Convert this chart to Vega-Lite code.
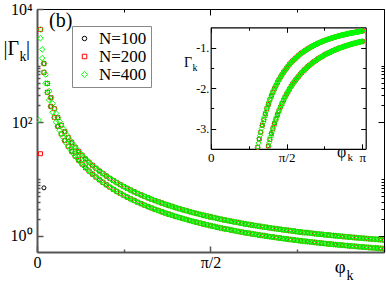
{
"$schema":"https://vega.github.io/schema/vega-lite/v6.json",
"width":347,"height":243,"autosize":"none",
"padding":{"left":37,"top":9,"right":2,"bottom":31},
"background":"white",
"config":{"view":{"stroke":null},"axis":{"grid":false,"labelFont":"Liberation Serif","labelColor":"black","labelFlush":false,"labelOverlap":false,"labelBound":false},"text":{"font":"Liberation Serif","color":"black"}},
"datasets":{"d":[
{"N":"N=100","phi":0.0628,"a":1090,"b":7},
{"N":"N=100","phi":0.1257,"a":272.7,"b":190.9},
{"N":"N=100","phi":0.1885,"a":121.4,"b":85.0},
{"N":"N=100","phi":0.2513,"a":68.48,"b":47.9},
{"N":"N=100","phi":0.3142,"a":43.98,"b":30.8},
{"N":"N=100","phi":0.3770,"a":30.66,"b":21.46},
{"N":"N=100","phi":0.4398,"a":22.64,"b":15.85},
{"N":"N=100","phi":0.5027,"a":17.43,"b":12.2},
{"N":"N=100","phi":0.5655,"a":13.86,"b":9.70},
{"N":"N=100","phi":0.6283,"a":11.30,"b":7.91},
{"N":"N=100","phi":0.6912,"a":9.41,"b":6.59},
{"N":"N=100","phi":0.7540,"a":7.97,"b":5.58},
{"N":"N=100","phi":0.8168,"a":6.855,"b":4.80},
{"N":"N=100","phi":0.8796,"a":5.97,"b":4.18},
{"N":"N=100","phi":0.9425,"a":5.25,"b":3.68},
{"N":"N=100","phi":1.0053,"a":4.66,"b":3.26,"gb":-3.26},
{"N":"N=100","phi":1.0681,"a":4.18,"b":2.92,"gb":-2.92},
{"N":"N=100","phi":1.1310,"a":3.77,"b":2.64,"gb":-2.64},
{"N":"N=100","phi":1.1938,"a":3.43,"b":2.40,"ga":-3.43,"gb":-2.40},
{"N":"N=100","phi":1.2566,"a":3.13,"b":2.19,"ga":-3.13,"gb":-2.19},
{"N":"N=100","phi":1.3195,"a":2.88,"b":2.02,"ga":-2.88,"gb":-2.02},
{"N":"N=100","phi":1.3823,"a":2.66,"b":1.86,"ga":-2.66,"gb":-1.86},
{"N":"N=100","phi":1.4451,"a":2.47,"b":1.73,"ga":-2.47,"gb":-1.73},
{"N":"N=100","phi":1.5080,"a":2.30,"b":1.61,"ga":-2.30,"gb":-1.61},
{"N":"N=100","phi":1.5708,"a":2.15,"b":1.51,"ga":-2.15,"gb":-1.51},
{"N":"N=100","phi":1.6336,"a":2.02,"b":1.41,"ga":-2.02,"gb":-1.41},
{"N":"N=100","phi":1.6965,"a":1.90,"b":1.33,"ga":-1.90,"gb":-1.33},
{"N":"N=100","phi":1.7593,"a":1.80,"b":1.26,"ga":-1.80,"gb":-1.26},
{"N":"N=100","phi":1.8221,"a":1.71,"b":1.19,"ga":-1.71,"gb":-1.19},
{"N":"N=100","phi":1.8850,"a":1.62,"b":1.13,"ga":-1.62,"gb":-1.13},
{"N":"N=100","phi":1.9478,"a":1.54,"b":1.08,"ga":-1.54,"gb":-1.08},
{"N":"N=100","phi":2.0106,"a":1.47,"b":1.03,"ga":-1.47,"gb":-1.03},
{"N":"N=100","phi":2.0735,"a":1.41,"b":0.987,"ga":-1.41,"gb":-0.987},
{"N":"N=100","phi":2.1363,"a":1.35,"b":0.947,"ga":-1.35,"gb":-0.947},
{"N":"N=100","phi":2.1991,"a":1.30,"b":0.909,"ga":-1.30,"gb":-0.909},
{"N":"N=100","phi":2.2619,"a":1.25,"b":0.875,"ga":-1.25,"gb":-0.875},
{"N":"N=100","phi":2.3248,"a":1.21,"b":0.844,"ga":-1.21,"gb":-0.844},
{"N":"N=100","phi":2.3876,"a":1.16,"b":0.815,"ga":-1.16,"gb":-0.815},
{"N":"N=100","phi":2.4504,"a":1.13,"b":0.788,"ga":-1.13,"gb":-0.788},
{"N":"N=100","phi":2.5133,"a":1.09,"b":0.764,"ga":-1.09,"gb":-0.764},
{"N":"N=100","phi":2.5761,"a":1.06,"b":0.741,"ga":-1.06,"gb":-0.741},
{"N":"N=100","phi":2.6389,"a":1.03,"b":0.719,"ga":-1.03,"gb":-0.719},
{"N":"N=100","phi":2.7018,"a":1.00,"b":0.699,"ga":-1.00,"gb":-0.699},
{"N":"N=100","phi":2.7646,"a":0.973,"b":0.681,"ga":-0.973,"gb":-0.681},
{"N":"N=100","phi":2.8274,"a":0.948,"b":0.663,"ga":-0.948,"gb":-0.663},
{"N":"N=100","phi":2.8903,"a":0.925,"b":0.647,"ga":-0.925,"gb":-0.647},
{"N":"N=100","phi":2.9531,"a":0.903,"b":0.632,"ga":-0.903,"gb":-0.632},
{"N":"N=100","phi":3.0159,"a":0.883,"b":0.618,"ga":-0.883,"gb":-0.618},
{"N":"N=100","phi":3.0788,"a":0.864,"b":0.605,"ga":-0.864,"gb":-0.605},
{"N":"N=100","phi":3.1416,"a":0.846,"b":0.592,"ga":-0.846,"gb":-0.592},
{"N":"N=200","phi":0.0314,"a":4357,"b":28},
{"N":"N=200","phi":0.0628,"a":1090,"b":763},
{"N":"N=200","phi":0.0942,"a":484.5,"b":339.2},
{"N":"N=200","phi":0.1257,"a":272.7,"b":190.9},
{"N":"N=200","phi":0.1571,"a":174.7,"b":122.3},
{"N":"N=200","phi":0.1885,"a":121.4,"b":85.0},
{"N":"N=200","phi":0.2199,"a":89.3,"b":62.5},
{"N":"N=200","phi":0.2513,"a":68.48,"b":47.9},
{"N":"N=200","phi":0.2827,"a":54.2,"b":37.9},
{"N":"N=200","phi":0.3142,"a":43.98,"b":30.8},
{"N":"N=200","phi":0.3456,"a":36.42,"b":25.5},
{"N":"N=200","phi":0.3770,"a":30.66,"b":21.46},
{"N":"N=200","phi":0.4084,"a":26.19,"b":18.33},
{"N":"N=200","phi":0.4398,"a":22.64,"b":15.85},
{"N":"N=200","phi":0.4712,"a":19.77,"b":13.84},
{"N":"N=200","phi":0.5027,"a":17.43,"b":12.2},
{"N":"N=200","phi":0.5341,"a":15.49,"b":10.84},
{"N":"N=200","phi":0.5655,"a":13.86,"b":9.70},
{"N":"N=200","phi":0.5969,"a":12.48,"b":8.74},
{"N":"N=200","phi":0.6283,"a":11.30,"b":7.91},
{"N":"N=200","phi":0.6597,"a":10.29,"b":7.20},
{"N":"N=200","phi":0.6912,"a":9.41,"b":6.59},
{"N":"N=200","phi":0.7226,"a":8.65,"b":6.05},
{"N":"N=200","phi":0.7540,"a":7.97,"b":5.58},
{"N":"N=200","phi":0.7854,"a":7.38,"b":5.17},
{"N":"N=200","phi":0.8168,"a":6.855,"b":4.80},
{"N":"N=200","phi":0.8482,"a":6.39,"b":4.47},
{"N":"N=200","phi":0.8796,"a":5.97,"b":4.18},
{"N":"N=200","phi":0.9111,"a":5.59,"b":3.91},
{"N":"N=200","phi":0.9425,"a":5.25,"b":3.68},
{"N":"N=200","phi":0.9739,"a":4.94,"b":3.46,"gb":-3.46},
{"N":"N=200","phi":1.0053,"a":4.66,"b":3.26,"gb":-3.26},
{"N":"N=200","phi":1.0367,"a":4.41,"b":3.09,"gb":-3.09},
{"N":"N=200","phi":1.0681,"a":4.18,"b":2.92,"gb":-2.92},
{"N":"N=200","phi":1.0996,"a":3.97,"b":2.78,"gb":-2.78},
{"N":"N=200","phi":1.1310,"a":3.77,"b":2.64,"gb":-2.64},
{"N":"N=200","phi":1.1624,"a":3.59,"b":2.51,"gb":-2.51},
{"N":"N=200","phi":1.1938,"a":3.43,"b":2.40,"ga":-3.43,"gb":-2.40},
{"N":"N=200","phi":1.2252,"a":3.27,"b":2.29,"ga":-3.27,"gb":-2.29},
{"N":"N=200","phi":1.2566,"a":3.13,"b":2.19,"ga":-3.13,"gb":-2.19},
{"N":"N=200","phi":1.2881,"a":3.00,"b":2.10,"ga":-3.00,"gb":-2.10},
{"N":"N=200","phi":1.3195,"a":2.88,"b":2.02,"ga":-2.88,"gb":-2.02},
{"N":"N=200","phi":1.3509,"a":2.77,"b":1.94,"ga":-2.77,"gb":-1.94},
{"N":"N=200","phi":1.3823,"a":2.66,"b":1.86,"ga":-2.66,"gb":-1.86},
{"N":"N=200","phi":1.4137,"a":2.56,"b":1.79,"ga":-2.56,"gb":-1.79},
{"N":"N=200","phi":1.4451,"a":2.47,"b":1.73,"ga":-2.47,"gb":-1.73},
{"N":"N=200","phi":1.4765,"a":2.38,"b":1.67,"ga":-2.38,"gb":-1.67},
{"N":"N=200","phi":1.5080,"a":2.30,"b":1.61,"ga":-2.30,"gb":-1.61},
{"N":"N=200","phi":1.5394,"a":2.22,"b":1.56,"ga":-2.22,"gb":-1.56},
{"N":"N=200","phi":1.5708,"a":2.15,"b":1.51,"ga":-2.15,"gb":-1.51},
{"N":"N=200","phi":1.6022,"a":2.09,"b":1.46,"ga":-2.09,"gb":-1.46},
{"N":"N=200","phi":1.6336,"a":2.02,"b":1.41,"ga":-2.02,"gb":-1.41},
{"N":"N=200","phi":1.6650,"a":1.96,"b":1.37,"ga":-1.96,"gb":-1.37},
{"N":"N=200","phi":1.6965,"a":1.90,"b":1.33,"ga":-1.90,"gb":-1.33},
{"N":"N=200","phi":1.7279,"a":1.85,"b":1.30,"ga":-1.85,"gb":-1.30},
{"N":"N=200","phi":1.7593,"a":1.80,"b":1.26,"ga":-1.80,"gb":-1.26},
{"N":"N=200","phi":1.7907,"a":1.75,"b":1.23,"ga":-1.75,"gb":-1.23},
{"N":"N=200","phi":1.8221,"a":1.71,"b":1.19,"ga":-1.71,"gb":-1.19},
{"N":"N=200","phi":1.8535,"a":1.66,"b":1.16,"ga":-1.66,"gb":-1.16},
{"N":"N=200","phi":1.8850,"a":1.62,"b":1.13,"ga":-1.62,"gb":-1.13},
{"N":"N=200","phi":1.9164,"a":1.58,"b":1.11,"ga":-1.58,"gb":-1.11},
{"N":"N=200","phi":1.9478,"a":1.54,"b":1.08,"ga":-1.54,"gb":-1.08},
{"N":"N=200","phi":1.9792,"a":1.51,"b":1.06,"ga":-1.51,"gb":-1.06},
{"N":"N=200","phi":2.0106,"a":1.47,"b":1.03,"ga":-1.47,"gb":-1.03},
{"N":"N=200","phi":2.0420,"a":1.44,"b":1.01,"ga":-1.44,"gb":-1.01},
{"N":"N=200","phi":2.0735,"a":1.41,"b":0.987,"ga":-1.41,"gb":-0.987},
{"N":"N=200","phi":2.1049,"a":1.38,"b":0.966,"ga":-1.38,"gb":-0.966},
{"N":"N=200","phi":2.1363,"a":1.35,"b":0.947,"ga":-1.35,"gb":-0.947},
{"N":"N=200","phi":2.1677,"a":1.33,"b":0.928,"ga":-1.33,"gb":-0.928},
{"N":"N=200","phi":2.1991,"a":1.30,"b":0.909,"ga":-1.30,"gb":-0.909},
{"N":"N=200","phi":2.2305,"a":1.27,"b":0.892,"ga":-1.27,"gb":-0.892},
{"N":"N=200","phi":2.2619,"a":1.25,"b":0.875,"ga":-1.25,"gb":-0.875},
{"N":"N=200","phi":2.2934,"a":1.23,"b":0.859,"ga":-1.23,"gb":-0.859},
{"N":"N=200","phi":2.3248,"a":1.21,"b":0.844,"ga":-1.21,"gb":-0.844},
{"N":"N=200","phi":2.3562,"a":1.18,"b":0.829,"ga":-1.18,"gb":-0.829},
{"N":"N=200","phi":2.3876,"a":1.16,"b":0.815,"ga":-1.16,"gb":-0.815},
{"N":"N=200","phi":2.4190,"a":1.14,"b":0.801,"ga":-1.14,"gb":-0.801},
{"N":"N=200","phi":2.4504,"a":1.13,"b":0.788,"ga":-1.13,"gb":-0.788},
{"N":"N=200","phi":2.4819,"a":1.11,"b":0.776,"ga":-1.11,"gb":-0.776},
{"N":"N=200","phi":2.5133,"a":1.09,"b":0.764,"ga":-1.09,"gb":-0.764},
{"N":"N=200","phi":2.5447,"a":1.07,"b":0.752,"ga":-1.07,"gb":-0.752},
{"N":"N=200","phi":2.5761,"a":1.06,"b":0.741,"ga":-1.06,"gb":-0.741},
{"N":"N=200","phi":2.6075,"a":1.04,"b":0.730,"ga":-1.04,"gb":-0.730},
{"N":"N=200","phi":2.6389,"a":1.03,"b":0.719,"ga":-1.03,"gb":-0.719},
{"N":"N=200","phi":2.6704,"a":1.01,"b":0.709,"ga":-1.01,"gb":-0.709},
{"N":"N=200","phi":2.7018,"a":1.00,"b":0.699,"ga":-1.00,"gb":-0.699},
{"N":"N=200","phi":2.7332,"a":0.986,"b":0.690,"ga":-0.986,"gb":-0.690},
{"N":"N=200","phi":2.7646,"a":0.973,"b":0.681,"ga":-0.973,"gb":-0.681},
{"N":"N=200","phi":2.7960,"a":0.960,"b":0.672,"ga":-0.960,"gb":-0.672},
{"N":"N=200","phi":2.8274,"a":0.948,"b":0.663,"ga":-0.948,"gb":-0.663},
{"N":"N=200","phi":2.8588,"a":0.936,"b":0.655,"ga":-0.936,"gb":-0.655},
{"N":"N=200","phi":2.8903,"a":0.925,"b":0.647,"ga":-0.925,"gb":-0.647},
{"N":"N=200","phi":2.9217,"a":0.914,"b":0.640,"ga":-0.914,"gb":-0.640},
{"N":"N=200","phi":2.9531,"a":0.903,"b":0.632,"ga":-0.903,"gb":-0.632},
{"N":"N=200","phi":2.9845,"a":0.893,"b":0.625,"ga":-0.893,"gb":-0.625},
{"N":"N=200","phi":3.0159,"a":0.883,"b":0.618,"ga":-0.883,"gb":-0.618},
{"N":"N=200","phi":3.0473,"a":0.873,"b":0.611,"ga":-0.873,"gb":-0.611},
{"N":"N=200","phi":3.0788,"a":0.864,"b":0.605,"ga":-0.864,"gb":-0.605},
{"N":"N=200","phi":3.1102,"a":0.855,"b":0.598,"ga":-0.855,"gb":-0.598},
{"N":"N=200","phi":3.1416,"a":0.846,"b":0.592,"ga":-0.846,"gb":-0.592},
{"N":"N=400","phi":0.0157,"b":110},
{"N":"N=400","phi":0.0314,"a":4357,"b":3050},
{"N":"N=400","phi":0.0471,"a":1937,"b":1356},
{"N":"N=400","phi":0.0628,"a":1090,"b":763},
{"N":"N=400","phi":0.0785,"a":697.5,"b":488.2},
{"N":"N=400","phi":0.0942,"a":484.5,"b":339.2},
{"N":"N=400","phi":0.1100,"a":356.1,"b":249.2},
{"N":"N=400","phi":0.1257,"a":272.7,"b":190.9},
{"N":"N=400","phi":0.1414,"a":215.6,"b":150.9},
{"N":"N=400","phi":0.1571,"a":174.7,"b":122.3},
{"N":"N=400","phi":0.1728,"a":144.4,"b":101.1},
{"N":"N=400","phi":0.1885,"a":121.4,"b":85.0},
{"N":"N=400","phi":0.2042,"a":103.5,"b":72.5},
{"N":"N=400","phi":0.2199,"a":89.3,"b":62.5},
{"N":"N=400","phi":0.2356,"a":77.86,"b":54.5},
{"N":"N=400","phi":0.2513,"a":68.48,"b":47.9},
{"N":"N=400","phi":0.2670,"a":60.71,"b":42.5},
{"N":"N=400","phi":0.2827,"a":54.2,"b":37.9},
{"N":"N=400","phi":0.2985,"a":48.68,"b":34.1},
{"N":"N=400","phi":0.3142,"a":43.98,"b":30.8},
{"N":"N=400","phi":0.3299,"a":39.93,"b":27.95},
{"N":"N=400","phi":0.3456,"a":36.42,"b":25.5},
{"N":"N=400","phi":0.3613,"a":33.35,"b":23.35},
{"N":"N=400","phi":0.3770,"a":30.66,"b":21.46},
{"N":"N=400","phi":0.3927,"a":28.29,"b":19.8},
{"N":"N=400","phi":0.4084,"a":26.19,"b":18.33},
{"N":"N=400","phi":0.4241,"a":24.32,"b":17.02},
{"N":"N=400","phi":0.4398,"a":22.64,"b":15.85},
{"N":"N=400","phi":0.4555,"a":21.13,"b":14.79},
{"N":"N=400","phi":0.4712,"a":19.77,"b":13.84},
{"N":"N=400","phi":0.4869,"a":18.54,"b":12.98},
{"N":"N=400","phi":0.5027,"a":17.43,"b":12.2},
{"N":"N=400","phi":0.5184,"a":16.41,"b":11.49},
{"N":"N=400","phi":0.5341,"a":15.49,"b":10.84},
{"N":"N=400","phi":0.5498,"a":14.64,"b":10.25},
{"N":"N=400","phi":0.5655,"a":13.86,"b":9.70},
{"N":"N=400","phi":0.5812,"a":13.14,"b":9.20},
{"N":"N=400","phi":0.5969,"a":12.48,"b":8.74},
{"N":"N=400","phi":0.6126,"a":11.87,"b":8.31},
{"N":"N=400","phi":0.6283,"a":11.30,"b":7.91},
{"N":"N=400","phi":0.6440,"a":10.78,"b":7.54},
{"N":"N=400","phi":0.6597,"a":10.29,"b":7.20},
{"N":"N=400","phi":0.6754,"a":9.835,"b":6.88},
{"N":"N=400","phi":0.6912,"a":9.41,"b":6.59},
{"N":"N=400","phi":0.7069,"a":9.02,"b":6.31},
{"N":"N=400","phi":0.7226,"a":8.65,"b":6.05},
{"N":"N=400","phi":0.7383,"a":8.30,"b":5.81},
{"N":"N=400","phi":0.7540,"a":7.97,"b":5.58},
{"N":"N=400","phi":0.7697,"a":7.67,"b":5.37},
{"N":"N=400","phi":0.7854,"a":7.38,"b":5.17},
{"N":"N=400","phi":0.8011,"a":7.11,"b":4.98},
{"N":"N=400","phi":0.8168,"a":6.855,"b":4.80},
{"N":"N=400","phi":0.8325,"a":6.61,"b":4.63},
{"N":"N=400","phi":0.8482,"a":6.39,"b":4.47},
{"N":"N=400","phi":0.8639,"a":6.17,"b":4.32},
{"N":"N=400","phi":0.8796,"a":5.97,"b":4.18},
{"N":"N=400","phi":0.8954,"a":5.77,"b":4.04},
{"N":"N=400","phi":0.9111,"a":5.59,"b":3.91},
{"N":"N=400","phi":0.9268,"a":5.42,"b":3.79},
{"N":"N=400","phi":0.9425,"a":5.25,"b":3.68},
{"N":"N=400","phi":0.9582,"a":5.09,"b":3.57},
{"N":"N=400","phi":0.9739,"a":4.94,"b":3.46,"gb":-3.46},
{"N":"N=400","phi":0.9896,"a":4.80,"b":3.36,"gb":-3.36},
{"N":"N=400","phi":1.0053,"a":4.66,"b":3.26,"gb":-3.26},
{"N":"N=400","phi":1.0210,"a":4.53,"b":3.17,"gb":-3.17},
{"N":"N=400","phi":1.0367,"a":4.41,"b":3.09,"gb":-3.09},
{"N":"N=400","phi":1.0524,"a":4.29,"b":3.00,"gb":-3.00},
{"N":"N=400","phi":1.0681,"a":4.18,"b":2.92,"gb":-2.92},
{"N":"N=400","phi":1.0838,"a":4.07,"b":2.85,"gb":-2.85},
{"N":"N=400","phi":1.0996,"a":3.97,"b":2.78,"gb":-2.78},
{"N":"N=400","phi":1.1153,"a":3.87,"b":2.71,"gb":-2.71},
{"N":"N=400","phi":1.1310,"a":3.77,"b":2.64,"gb":-2.64},
{"N":"N=400","phi":1.1467,"a":3.68,"b":2.58,"gb":-2.58},
{"N":"N=400","phi":1.1624,"a":3.59,"b":2.51,"gb":-2.51},
{"N":"N=400","phi":1.1781,"a":3.51,"b":2.46,"gb":-2.46},
{"N":"N=400","phi":1.1938,"a":3.43,"b":2.40,"ga":-3.43,"gb":-2.40},
{"N":"N=400","phi":1.2095,"a":3.35,"b":2.34,"ga":-3.35,"gb":-2.34},
{"N":"N=400","phi":1.2252,"a":3.27,"b":2.29,"ga":-3.27,"gb":-2.29},
{"N":"N=400","phi":1.2409,"a":3.20,"b":2.24,"ga":-3.20,"gb":-2.24},
{"N":"N=400","phi":1.2566,"a":3.13,"b":2.19,"ga":-3.13,"gb":-2.19},
{"N":"N=400","phi":1.2723,"a":3.07,"b":2.15,"ga":-3.07,"gb":-2.15},
{"N":"N=400","phi":1.2881,"a":3.00,"b":2.10,"ga":-3.00,"gb":-2.10},
{"N":"N=400","phi":1.3038,"a":2.94,"b":2.06,"ga":-2.94,"gb":-2.06},
{"N":"N=400","phi":1.3195,"a":2.88,"b":2.02,"ga":-2.88,"gb":-2.02},
{"N":"N=400","phi":1.3352,"a":2.82,"b":1.97,"ga":-2.82,"gb":-1.97},
{"N":"N=400","phi":1.3509,"a":2.77,"b":1.94,"ga":-2.77,"gb":-1.94},
{"N":"N=400","phi":1.3666,"a":2.71,"b":1.90,"ga":-2.71,"gb":-1.90},
{"N":"N=400","phi":1.3823,"a":2.66,"b":1.86,"ga":-2.66,"gb":-1.86},
{"N":"N=400","phi":1.3980,"a":2.61,"b":1.83,"ga":-2.61,"gb":-1.83},
{"N":"N=400","phi":1.4137,"a":2.56,"b":1.79,"ga":-2.56,"gb":-1.79},
{"N":"N=400","phi":1.4294,"a":2.51,"b":1.76,"ga":-2.51,"gb":-1.76},
{"N":"N=400","phi":1.4451,"a":2.47,"b":1.73,"ga":-2.47,"gb":-1.73},
{"N":"N=400","phi":1.4608,"a":2.43,"b":1.70,"ga":-2.43,"gb":-1.70},
{"N":"N=400","phi":1.4765,"a":2.38,"b":1.67,"ga":-2.38,"gb":-1.67},
{"N":"N=400","phi":1.4923,"a":2.34,"b":1.64,"ga":-2.34,"gb":-1.64},
{"N":"N=400","phi":1.5080,"a":2.30,"b":1.61,"ga":-2.30,"gb":-1.61},
{"N":"N=400","phi":1.5237,"a":2.26,"b":1.58,"ga":-2.26,"gb":-1.58},
{"N":"N=400","phi":1.5394,"a":2.22,"b":1.56,"ga":-2.22,"gb":-1.56},
{"N":"N=400","phi":1.5551,"a":2.19,"b":1.53,"ga":-2.19,"gb":-1.53},
{"N":"N=400","phi":1.5708,"a":2.15,"b":1.51,"ga":-2.15,"gb":-1.51},
{"N":"N=400","phi":1.5865,"a":2.12,"b":1.48,"ga":-2.12,"gb":-1.48},
{"N":"N=400","phi":1.6022,"a":2.09,"b":1.46,"ga":-2.09,"gb":-1.46},
{"N":"N=400","phi":1.6179,"a":2.05,"b":1.44,"ga":-2.05,"gb":-1.44},
{"N":"N=400","phi":1.6336,"a":2.02,"b":1.41,"ga":-2.02,"gb":-1.41},
{"N":"N=400","phi":1.6493,"a":1.99,"b":1.39,"ga":-1.99,"gb":-1.39},
{"N":"N=400","phi":1.6650,"a":1.96,"b":1.37,"ga":-1.96,"gb":-1.37},
{"N":"N=400","phi":1.6808,"a":1.93,"b":1.35,"ga":-1.93,"gb":-1.35},
{"N":"N=400","phi":1.6965,"a":1.90,"b":1.33,"ga":-1.90,"gb":-1.33},
{"N":"N=400","phi":1.7122,"a":1.88,"b":1.31,"ga":-1.88,"gb":-1.31},
{"N":"N=400","phi":1.7279,"a":1.85,"b":1.30,"ga":-1.85,"gb":-1.30},
{"N":"N=400","phi":1.7436,"a":1.82,"b":1.28,"ga":-1.82,"gb":-1.28},
{"N":"N=400","phi":1.7593,"a":1.80,"b":1.26,"ga":-1.80,"gb":-1.26},
{"N":"N=400","phi":1.7750,"a":1.77,"b":1.24,"ga":-1.77,"gb":-1.24},
{"N":"N=400","phi":1.7907,"a":1.75,"b":1.23,"ga":-1.75,"gb":-1.23},
{"N":"N=400","phi":1.8064,"a":1.73,"b":1.21,"ga":-1.73,"gb":-1.21},
{"N":"N=400","phi":1.8221,"a":1.71,"b":1.19,"ga":-1.71,"gb":-1.19},
{"N":"N=400","phi":1.8378,"a":1.68,"b":1.18,"ga":-1.68,"gb":-1.18},
{"N":"N=400","phi":1.8535,"a":1.66,"b":1.16,"ga":-1.66,"gb":-1.16},
{"N":"N=400","phi":1.8692,"a":1.64,"b":1.15,"ga":-1.64,"gb":-1.15},
{"N":"N=400","phi":1.8850,"a":1.62,"b":1.13,"ga":-1.62,"gb":-1.13},
{"N":"N=400","phi":1.9007,"a":1.60,"b":1.12,"ga":-1.60,"gb":-1.12},
{"N":"N=400","phi":1.9164,"a":1.58,"b":1.11,"ga":-1.58,"gb":-1.11},
{"N":"N=400","phi":1.9321,"a":1.56,"b":1.09,"ga":-1.56,"gb":-1.09},
{"N":"N=400","phi":1.9478,"a":1.54,"b":1.08,"ga":-1.54,"gb":-1.08},
{"N":"N=400","phi":1.9635,"a":1.53,"b":1.07,"ga":-1.53,"gb":-1.07},
{"N":"N=400","phi":1.9792,"a":1.51,"b":1.06,"ga":-1.51,"gb":-1.06},
{"N":"N=400","phi":1.9949,"a":1.49,"b":1.04,"ga":-1.49,"gb":-1.04},
{"N":"N=400","phi":2.0106,"a":1.47,"b":1.03,"ga":-1.47,"gb":-1.03},
{"N":"N=400","phi":2.0263,"a":1.46,"b":1.02,"ga":-1.46,"gb":-1.02},
{"N":"N=400","phi":2.0420,"a":1.44,"b":1.01,"ga":-1.44,"gb":-1.01},
{"N":"N=400","phi":2.0577,"a":1.43,"b":1.00,"ga":-1.43,"gb":-1.00},
{"N":"N=400","phi":2.0735,"a":1.41,"b":0.987,"ga":-1.41,"gb":-0.987},
{"N":"N=400","phi":2.0892,"a":1.40,"b":0.977,"ga":-1.40,"gb":-0.977},
{"N":"N=400","phi":2.1049,"a":1.38,"b":0.966,"ga":-1.38,"gb":-0.966},
{"N":"N=400","phi":2.1206,"a":1.37,"b":0.956,"ga":-1.37,"gb":-0.956},
{"N":"N=400","phi":2.1363,"a":1.35,"b":0.947,"ga":-1.35,"gb":-0.947},
{"N":"N=400","phi":2.1520,"a":1.34,"b":0.937,"ga":-1.34,"gb":-0.937},
{"N":"N=400","phi":2.1677,"a":1.33,"b":0.928,"ga":-1.33,"gb":-0.928},
{"N":"N=400","phi":2.1834,"a":1.31,"b":0.918,"ga":-1.31,"gb":-0.918},
{"N":"N=400","phi":2.1991,"a":1.30,"b":0.909,"ga":-1.30,"gb":-0.909},
{"N":"N=400","phi":2.2148,"a":1.29,"b":0.901,"ga":-1.29,"gb":-0.901},
{"N":"N=400","phi":2.2305,"a":1.27,"b":0.892,"ga":-1.27,"gb":-0.892},
{"N":"N=400","phi":2.2462,"a":1.26,"b":0.884,"ga":-1.26,"gb":-0.884},
{"N":"N=400","phi":2.2619,"a":1.25,"b":0.875,"ga":-1.25,"gb":-0.875},
{"N":"N=400","phi":2.2777,"a":1.24,"b":0.867,"ga":-1.24,"gb":-0.867},
{"N":"N=400","phi":2.2934,"a":1.23,"b":0.859,"ga":-1.23,"gb":-0.859},
{"N":"N=400","phi":2.3091,"a":1.22,"b":0.852,"ga":-1.22,"gb":-0.852},
{"N":"N=400","phi":2.3248,"a":1.21,"b":0.844,"ga":-1.21,"gb":-0.844},
{"N":"N=400","phi":2.3405,"a":1.20,"b":0.837,"ga":-1.20,"gb":-0.837},
{"N":"N=400","phi":2.3562,"a":1.18,"b":0.829,"ga":-1.18,"gb":-0.829},
{"N":"N=400","phi":2.3719,"a":1.17,"b":0.822,"ga":-1.17,"gb":-0.822},
{"N":"N=400","phi":2.3876,"a":1.16,"b":0.815,"ga":-1.16,"gb":-0.815},
{"N":"N=400","phi":2.4033,"a":1.15,"b":0.808,"ga":-1.15,"gb":-0.808},
{"N":"N=400","phi":2.4190,"a":1.14,"b":0.801,"ga":-1.14,"gb":-0.801},
{"N":"N=400","phi":2.4347,"a":1.14,"b":0.795,"ga":-1.14,"gb":-0.795},
{"N":"N=400","phi":2.4504,"a":1.13,"b":0.788,"ga":-1.13,"gb":-0.788},
{"N":"N=400","phi":2.4662,"a":1.12,"b":0.782,"ga":-1.12,"gb":-0.782},
{"N":"N=400","phi":2.4819,"a":1.11,"b":0.776,"ga":-1.11,"gb":-0.776},
{"N":"N=400","phi":2.4976,"a":1.10,"b":0.770,"ga":-1.10,"gb":-0.770},
{"N":"N=400","phi":2.5133,"a":1.09,"b":0.764,"ga":-1.09,"gb":-0.764},
{"N":"N=400","phi":2.5290,"a":1.08,"b":0.758,"ga":-1.08,"gb":-0.758},
{"N":"N=400","phi":2.5447,"a":1.07,"b":0.752,"ga":-1.07,"gb":-0.752},
{"N":"N=400","phi":2.5604,"a":1.07,"b":0.746,"ga":-1.07,"gb":-0.746},
{"N":"N=400","phi":2.5761,"a":1.06,"b":0.741,"ga":-1.06,"gb":-0.741},
{"N":"N=400","phi":2.5918,"a":1.05,"b":0.735,"ga":-1.05,"gb":-0.735},
{"N":"N=400","phi":2.6075,"a":1.04,"b":0.730,"ga":-1.04,"gb":-0.730},
{"N":"N=400","phi":2.6232,"a":1.03,"b":0.724,"ga":-1.03,"gb":-0.724},
{"N":"N=400","phi":2.6389,"a":1.03,"b":0.719,"ga":-1.03,"gb":-0.719},
{"N":"N=400","phi":2.6546,"a":1.02,"b":0.714,"ga":-1.02,"gb":-0.714},
{"N":"N=400","phi":2.6704,"a":1.01,"b":0.709,"ga":-1.01,"gb":-0.709},
{"N":"N=400","phi":2.6861,"a":1.01,"b":0.704,"ga":-1.01,"gb":-0.704},
{"N":"N=400","phi":2.7018,"a":1.00,"b":0.699,"ga":-1.00,"gb":-0.699},
{"N":"N=400","phi":2.7175,"a":0.992,"b":0.695,"ga":-0.992,"gb":-0.695},
{"N":"N=400","phi":2.7332,"a":0.986,"b":0.690,"ga":-0.986,"gb":-0.690},
{"N":"N=400","phi":2.7489,"a":0.979,"b":0.685,"ga":-0.979,"gb":-0.685},
{"N":"N=400","phi":2.7646,"a":0.973,"b":0.681,"ga":-0.973,"gb":-0.681},
{"N":"N=400","phi":2.7803,"a":0.966,"b":0.676,"ga":-0.966,"gb":-0.676},
{"N":"N=400","phi":2.7960,"a":0.960,"b":0.672,"ga":-0.960,"gb":-0.672},
{"N":"N=400","phi":2.8117,"a":0.954,"b":0.668,"ga":-0.954,"gb":-0.668},
{"N":"N=400","phi":2.8274,"a":0.948,"b":0.663,"ga":-0.948,"gb":-0.663},
{"N":"N=400","phi":2.8431,"a":0.942,"b":0.659,"ga":-0.942,"gb":-0.659},
{"N":"N=400","phi":2.8588,"a":0.936,"b":0.655,"ga":-0.936,"gb":-0.655},
{"N":"N=400","phi":2.8746,"a":0.930,"b":0.651,"ga":-0.930,"gb":-0.651},
{"N":"N=400","phi":2.8903,"a":0.925,"b":0.647,"ga":-0.925,"gb":-0.647},
{"N":"N=400","phi":2.9060,"a":0.919,"b":0.643,"ga":-0.919,"gb":-0.643},
{"N":"N=400","phi":2.9217,"a":0.914,"b":0.640,"ga":-0.914,"gb":-0.640},
{"N":"N=400","phi":2.9374,"a":0.908,"b":0.636,"ga":-0.908,"gb":-0.636},
{"N":"N=400","phi":2.9531,"a":0.903,"b":0.632,"ga":-0.903,"gb":-0.632},
{"N":"N=400","phi":2.9688,"a":0.898,"b":0.629,"ga":-0.898,"gb":-0.629},
{"N":"N=400","phi":2.9845,"a":0.893,"b":0.625,"ga":-0.893,"gb":-0.625},
{"N":"N=400","phi":3.0002,"a":0.888,"b":0.621,"ga":-0.888,"gb":-0.621},
{"N":"N=400","phi":3.0159,"a":0.883,"b":0.618,"ga":-0.883,"gb":-0.618},
{"N":"N=400","phi":3.0316,"a":0.878,"b":0.615,"ga":-0.878,"gb":-0.615},
{"N":"N=400","phi":3.0473,"a":0.873,"b":0.611,"ga":-0.873,"gb":-0.611},
{"N":"N=400","phi":3.0631,"a":0.868,"b":0.608,"ga":-0.868,"gb":-0.608},
{"N":"N=400","phi":3.0788,"a":0.864,"b":0.605,"ga":-0.864,"gb":-0.605},
{"N":"N=400","phi":3.0945,"a":0.859,"b":0.601,"ga":-0.859,"gb":-0.601},
{"N":"N=400","phi":3.1102,"a":0.855,"b":0.598,"ga":-0.855,"gb":-0.598},
{"N":"N=400","phi":3.1259,"a":0.850,"b":0.595,"ga":-0.850,"gb":-0.595},
{"N":"N=400","phi":3.1416,"a":0.846,"b":0.592,"ga":-0.846,"gb":-0.592}
]},
"layer":[
{"layer":[
 {"data":{"name":"d"},"mark":{"type":"point","filled":false,"size":16,"strokeWidth":1,"opacity":1,"clip":true},
  "encoding":{
   "x":{"field":"phi","type":"quantitative","scale":{"domain":[0,3.1415927],"nice":false,"zero":false},
        "axis":{"orient":"bottom","values":[0,1.5707963,3.1415927],"labelExpr":"datum.value < 0.1 ? '0' : (datum.value < 2 ? 'π/2' : '')","tickSize":-6,"tickWidth":1.5,"tickColor":"#555555","domainColor":"#555555","domainWidth":2,"labelFontSize":16,"labelPadding":8,"title":null}},
   "y":{"field":"a","type":"quantitative","scale":{"type":"log","domain":[0.517,10000],"nice":false},
        "axis":{"orient":"left","values":[1,100,10000],"labelExpr":"datum.value == 1 ? '10⁰' : (datum.value == 100 ? '10²' : '10⁴')","tickSize":-6,"tickWidth":1.5,"tickColor":"#555555","domainColor":"#555555","domainWidth":2,"labelFontSize":16,"labelPadding":11,"title":null}},
   "color":{"field":"N","type":"nominal","scale":{"domain":["N=100","N=200","N=400"],"range":["#000000","#ff0000","#00ff00"]},
        "legend":{"orient":"none","legendX":35,"legendY":17,"title":null,"labelFont":"Liberation Serif","labelFontSize":17,"labelColor":"black","symbolSize":20,"symbolStrokeWidth":1,"strokeColor":"#888888","fillColor":"white","padding":4,"rowPadding":0,"labelOffset":6}},
   "shape":{"field":"N","type":"nominal","scale":{"domain":["N=100","N=200","N=400"],"range":["circle","square","M0,-1.4L1.4,0L0,1.4L-1.4,0Z"]},
        "legend":{"orient":"none","legendX":35,"legendY":17,"title":null,"labelFont":"Liberation Serif","labelFontSize":17,"labelColor":"black","symbolSize":20,"symbolStrokeWidth":1,"strokeColor":"#888888","fillColor":"white","padding":4,"rowPadding":0,"labelOffset":6}}
  }},
 {"data":{"name":"d"},"mark":{"type":"point","filled":false,"size":16,"strokeWidth":1,"opacity":1,"clip":true},
  "encoding":{
   "x":{"field":"phi","type":"quantitative","scale":{"domain":[0,3.1415927],"nice":false,"zero":false},
        "axis":{"orient":"bottom","values":[0.7853982,2.3561945],"labels":false,"domain":false,"tickSize":-3,"tickWidth":1.5,"tickColor":"#555555","title":null}},
   "y":{"field":"b","type":"quantitative","scale":{"type":"log","domain":[0.517,10000],"nice":false},
        "axis":{"orient":"left","values":[2,3,4,5,6,7,8,9,10,200,300,400,500,600,700,800,900,1000],"labels":false,"domain":false,"tickSize":-3,"tickWidth":1.5,"tickColor":"#555555","title":null}},
   "color":{"field":"N","type":"nominal"},
   "shape":{"field":"N","type":"nominal"}
  }},
 {"data":{"name":"d"},"mark":{"type":"point","opacity":0},
  "encoding":{
   "x":{"field":"phi","type":"quantitative","scale":{"domain":[0,3.1415927],"nice":false,"zero":false},
        "axis":{"orient":"top","values":[0,1.5707963,3.1415927],"labels":false,"tickSize":-6,"tickColor":"black","domainColor":"black","domainWidth":1,"title":null}},
   "y":{"field":"a","type":"quantitative","scale":{"type":"log","domain":[0.517,10000],"nice":false},
        "axis":{"orient":"right","values":[1,100,10000],"labels":false,"tickSize":-6,"tickColor":"black","domainColor":"black","domainWidth":1,"title":null}}
  }},
 {"data":{"name":"d"},"mark":{"type":"point","opacity":0},
  "encoding":{
   "x":{"field":"phi","type":"quantitative","scale":{"domain":[0,3.1415927],"nice":false,"zero":false},
        "axis":{"orient":"top","values":[0.7853982,2.3561945],"labels":false,"domain":false,"tickSize":-3,"tickColor":"black","title":null}},
   "y":{"field":"a","type":"quantitative","scale":{"type":"log","domain":[0.517,10000],"nice":false},
        "axis":{"orient":"right","values":[2,3,4,5,6,7,8,9,10,200,300,400,500,600,700,800,900,1000],"labels":false,"domain":false,"tickSize":-3,"tickColor":"black","title":null}}
  }},
 {"data":{"values":[{}]},"mark":{"type":"text","text":"(b)","fontSize":20,"align":"left","baseline":"alphabetic"},
  "encoding":{"x":{"datum":0.1086,"type":"quantitative","axis":null},"y":{"datum":4814,"type":"quantitative","axis":null}}},
 {"data":{"values":[{}]},"mark":{"type":"text","text":"|Γ","fontSize":20,"align":"right","baseline":"alphabetic"},
  "encoding":{"x":{"datum":-0.163,"type":"quantitative","axis":null},"y":{"datum":1544,"type":"quantitative","axis":null}}},
 {"data":{"values":[{}]},"mark":{"type":"text","text":"k","fontSize":14,"align":"left","baseline":"alphabetic"},
  "encoding":{"x":{"datum":-0.1584,"type":"quantitative","axis":null},"y":{"datum":1210,"type":"quantitative","axis":null}}},
 {"data":{"values":[{}]},"mark":{"type":"text","text":"|","fontSize":20,"align":"left","baseline":"alphabetic"},
  "encoding":{"x":{"datum":-0.0996,"type":"quantitative","axis":null},"y":{"datum":1544,"type":"quantitative","axis":null}}},
 {"data":{"values":[{}]},"mark":{"type":"text","text":"φ","fontSize":19,"align":"center","baseline":"alphabetic"},
  "encoding":{"x":{"datum":2.745,"type":"quantitative","axis":null},"y":{"datum":0.2203,"type":"quantitative","axis":null}}},
 {"data":{"values":[{}]},"mark":{"type":"text","text":"k","fontSize":14,"align":"left","baseline":"alphabetic"},
  "encoding":{"x":{"datum":2.803,"type":"quantitative","axis":null},"y":{"datum":0.1658,"type":"quantitative","axis":null}}}
 ],
 "resolve":{"axis":{"x":"independent","y":"independent"}}
},
{"layer":[
 {"data":{"name":"d"},"mark":{"type":"point","filled":false,"size":14,"strokeWidth":1,"opacity":1},
  "encoding":{
   "x":{"field":"phi","type":"quantitative","scale":{"domain":[0,3.21],"range":[173.7,328.7],"nice":false,"zero":false},
        "axis":{"orient":"bottom","offset":-103.2,"values":[0,1.5707963,3.1415927],"labelExpr":"datum.value < 0.1 ? '0' : (datum.value < 2 ? 'π/2' : 'π')","tickSize":-5,"tickColor":"black","domainColor":"black","domainWidth":1.2,"labelFontSize":13,"labelPadding":8,"title":null}},
   "y":{"field":"ga","type":"quantitative","scale":{"domain":[-3.5,-0.5],"range":[139.8,18.3],"nice":false,"zero":false},
        "axis":{"orient":"left","offset":-173.7,"values":[-1,-2,-3],"labelExpr":"datum.value + '.'","tickSize":-5,"tickColor":"black","domainColor":"black","domainWidth":1.2,"labelFontSize":12,"labelPadding":7,"title":null}},
   "color":{"field":"N","type":"nominal"},
   "shape":{"field":"N","type":"nominal"}
  }},
 {"data":{"name":"d"},"mark":{"type":"point","filled":false,"size":14,"strokeWidth":1,"opacity":1},
  "encoding":{
   "x":{"field":"phi","type":"quantitative","scale":{"domain":[0,3.21],"range":[173.7,328.7],"nice":false,"zero":false},
        "axis":{"orient":"bottom","offset":-103.2,"values":[0.7853982,2.3561945],"labels":false,"domain":false,"tickSize":-3,"tickColor":"black","title":null}},
   "y":{"field":"gb","type":"quantitative","scale":{"domain":[-3.5,-0.5],"range":[139.8,18.3],"nice":false,"zero":false},
        "axis":{"orient":"left","offset":-173.7,"values":[-1.5,-2.5],"labels":false,"domain":false,"tickSize":-3,"tickColor":"black","title":null}},
   "color":{"field":"N","type":"nominal"},
   "shape":{"field":"N","type":"nominal"}
  }},
 {"data":{"name":"d"},"mark":{"type":"point","opacity":0},
  "encoding":{
   "x":{"field":"phi","type":"quantitative","scale":{"domain":[0,3.21],"range":[173.7,328.7],"nice":false,"zero":false},
        "axis":{"orient":"top","offset":-18.3,"values":[0,1.5707963,3.1415927],"labels":false,"tickSize":-5,"tickColor":"black","domainColor":"black","domainWidth":1.2,"title":null}},
   "y":{"field":"ga","type":"quantitative","scale":{"domain":[-3.5,-0.5],"range":[139.8,18.3],"nice":false,"zero":false},
        "axis":{"orient":"right","offset":-18.3,"values":[-1,-2,-3],"labels":false,"tickSize":-5,"tickColor":"black","domainColor":"black","domainWidth":1.2,"title":null}}
  }},
 {"data":{"name":"d"},"mark":{"type":"point","opacity":0},
  "encoding":{
   "x":{"field":"phi","type":"quantitative","scale":{"domain":[0,3.21],"range":[173.7,328.7],"nice":false,"zero":false},
        "axis":{"orient":"top","offset":-18.3,"values":[0.7853982,2.3561945],"labels":false,"domain":false,"tickSize":-3,"tickColor":"black","title":null}},
   "y":{"field":"gb","type":"quantitative","scale":{"domain":[-3.5,-0.5],"range":[139.8,18.3],"nice":false,"zero":false},
        "axis":{"orient":"right","offset":-18.3,"values":[-1.5,-2.5],"labels":false,"domain":false,"tickSize":-3,"tickColor":"black","title":null}}
  }},
 {"data":{"values":[{}]},"mark":{"type":"text","text":"Γ","fontSize":14,"align":"right","baseline":"alphabetic"},
  "encoding":{"x":{"datum":-0.387,"type":"quantitative","axis":null},"y":{"datum":-1.48,"type":"quantitative","axis":null}}},
 {"data":{"values":[{}]},"mark":{"type":"text","text":"k","fontSize":10,"align":"left","baseline":"alphabetic"},
  "encoding":{"x":{"datum":-0.377,"type":"quantitative","axis":null},"y":{"datum":-1.579,"type":"quantitative","axis":null}}},
 {"data":{"values":[{}]},"mark":{"type":"text","text":"φ","fontSize":16,"align":"center","baseline":"alphabetic"},
  "encoding":{"x":{"datum":2.709,"type":"quantitative","axis":null},"y":{"datum":-3.7025,"type":"quantitative","axis":null}}},
 {"data":{"values":[{}]},"mark":{"type":"text","text":"k","fontSize":11,"align":"left","baseline":"alphabetic"},
  "encoding":{"x":{"datum":2.833,"type":"quantitative","axis":null},"y":{"datum":-3.801,"type":"quantitative","axis":null}}}
 ],
 "resolve":{"axis":{"x":"independent","y":"independent"}}
}
],
"resolve":{"scale":{"x":"independent","y":"independent"},"axis":{"x":"independent","y":"independent"}}
}
